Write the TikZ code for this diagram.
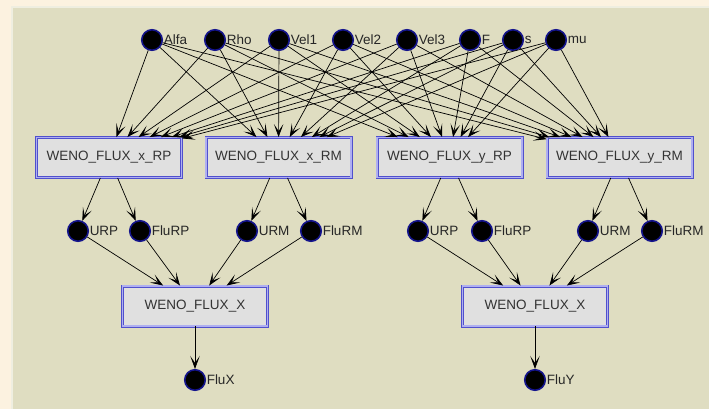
\documentclass[tikz,border=0pt]{standalone}
\usepackage{fontspec}
\setmainfont{Liberation Sans}
\usetikzlibrary{arrows.meta}

\begin{document}
\begin{tikzpicture}[x=1pt, y=-1pt,
    every node/.style={font=\fontsize{13.5}{15}\selectfont},
    var/.style={circle, draw=varblue, fill=black, line width=1.6pt, minimum size=20.5pt, inner sep=0pt},
    lbl/.style={inner sep=0.5pt, text=black!85},
    func/.style={draw=boxblue, double=boxlight, double distance=1.2pt, line width=0.9pt, fill=boxgray, text=black!80, minimum width=145pt, minimum height=40pt, inner sep=0pt},
    link/.style={-{Stealth[length=13pt,width=9.5pt,inset=7pt]}, line width=0.7pt}]
        \definecolor{outer}{RGB}{252,242,224}
        \definecolor{panel}{RGB}{223,221,193}
        \definecolor{varblue}{RGB}{20,20,140}
        \definecolor{boxblue}{RGB}{80,80,205}
        \definecolor{boxlight}{RGB}{175,175,240}
        \definecolor{boxgray}{RGB}{224,224,224}

        % Background
        \useasboundingbox (0,0) rectangle (709,409);
        \fill[outer] (0,0) rectangle (709,409);
        \fill[panel] (12,7) rectangle (709,409);
        \draw[white!50!panel, line width=1.5pt] (12,409) -- (12,7) -- (709,7);

        % Inputs
        \node[var, label={[lbl]east:Alfa}] (alfa) at (152,40) {};
        \node[var, label={[lbl]east:Rho}] (rho) at (215,40) {};
        \node[var, label={[lbl]east:Vel1}] (vela) at (279,40) {};
        \node[var, label={[lbl]east:Vel2}] (velb) at (343,40) {};
        \node[var, label={[lbl]east:Vel3}] (velc) at (407,40) {};
        \node[var, label={[lbl]east:F}] (f) at (470,40) {};
        \node[var, label={[lbl]east:s}] (s) at (513,40) {};
        \node[var, label={[lbl]east:mu}] (mu) at (556,40) {};

        % Flux blocks
        \node[func] (xrp) at (109,157.5) {WENO\_FLUX\_x\_RP};
        \node[func] (xrm) at (278.5,157.5) {WENO\_FLUX\_x\_RM};
        \node[func] (yrp) at (449.5,157.5) {WENO\_FLUX\_y\_RP};
        \node[func] (yrm) at (619.5,157.5) {WENO\_FLUX\_y\_RM};

        % Intermediate results
        \node[var, label={[lbl]east:URP}] (xurp) at (78,231) {};
        \node[var, label={[lbl]east:FluRP}] (xflurp) at (140,231) {};
        \node[var, label={[lbl]east:URM}] (xurm) at (247,231) {};
        \node[var, label={[lbl]east:FluRM}] (xflurm) at (311,231) {};
        \node[var, label={[lbl]east:URP}] (yurp) at (418,231) {};
        \node[var, label={[lbl]east:FluRP}] (yflurp) at (482,231) {};
        \node[var, label={[lbl]east:URM}] (yurm) at (588,231) {};
        \node[var, label={[lbl]east:FluRM}] (yflurm) at (652,231) {};

        % Combining blocks and outputs
        \node[func] (fluxx) at (195,306) {WENO\_FLUX\_X};
        \node[func] (fluxy) at (535,306) {WENO\_FLUX\_X};
        \node[var, label={[lbl]east:FluX}] (flux) at (195,380) {};
        \node[var, label={[lbl]east:FluY}] (fluy) at (535,380) {};

        % Every input feeds every flux block
        \foreach \v in {alfa,rho,vela,velb,velc,f,s,mu}
            \foreach \b in {xrp,xrm,yrp,yrm}
                \draw[link] (\v) -- (\b);

        \draw[link] (xrp) -- (xurp);
        \draw[link] (xrp) -- (xflurp);
        \draw[link] (xrm) -- (xurm);
        \draw[link] (xrm) -- (xflurm);
        \draw[link] (yrp) -- (yurp);
        \draw[link] (yrp) -- (yflurp);
        \draw[link] (yrm) -- (yurm);
        \draw[link] (yrm) -- (yflurm);

        \foreach \v in {xurp,xflurp,xurm,xflurm}
            \draw[link] (\v) -- (fluxx);
        \foreach \v in {yurp,yflurp,yurm,yflurm}
            \draw[link] (\v) -- (fluxy);

        \draw[link] (fluxx) -- (flux);
        \draw[link] (fluxy) -- (fluy);
    \end{tikzpicture}
\end{document}
